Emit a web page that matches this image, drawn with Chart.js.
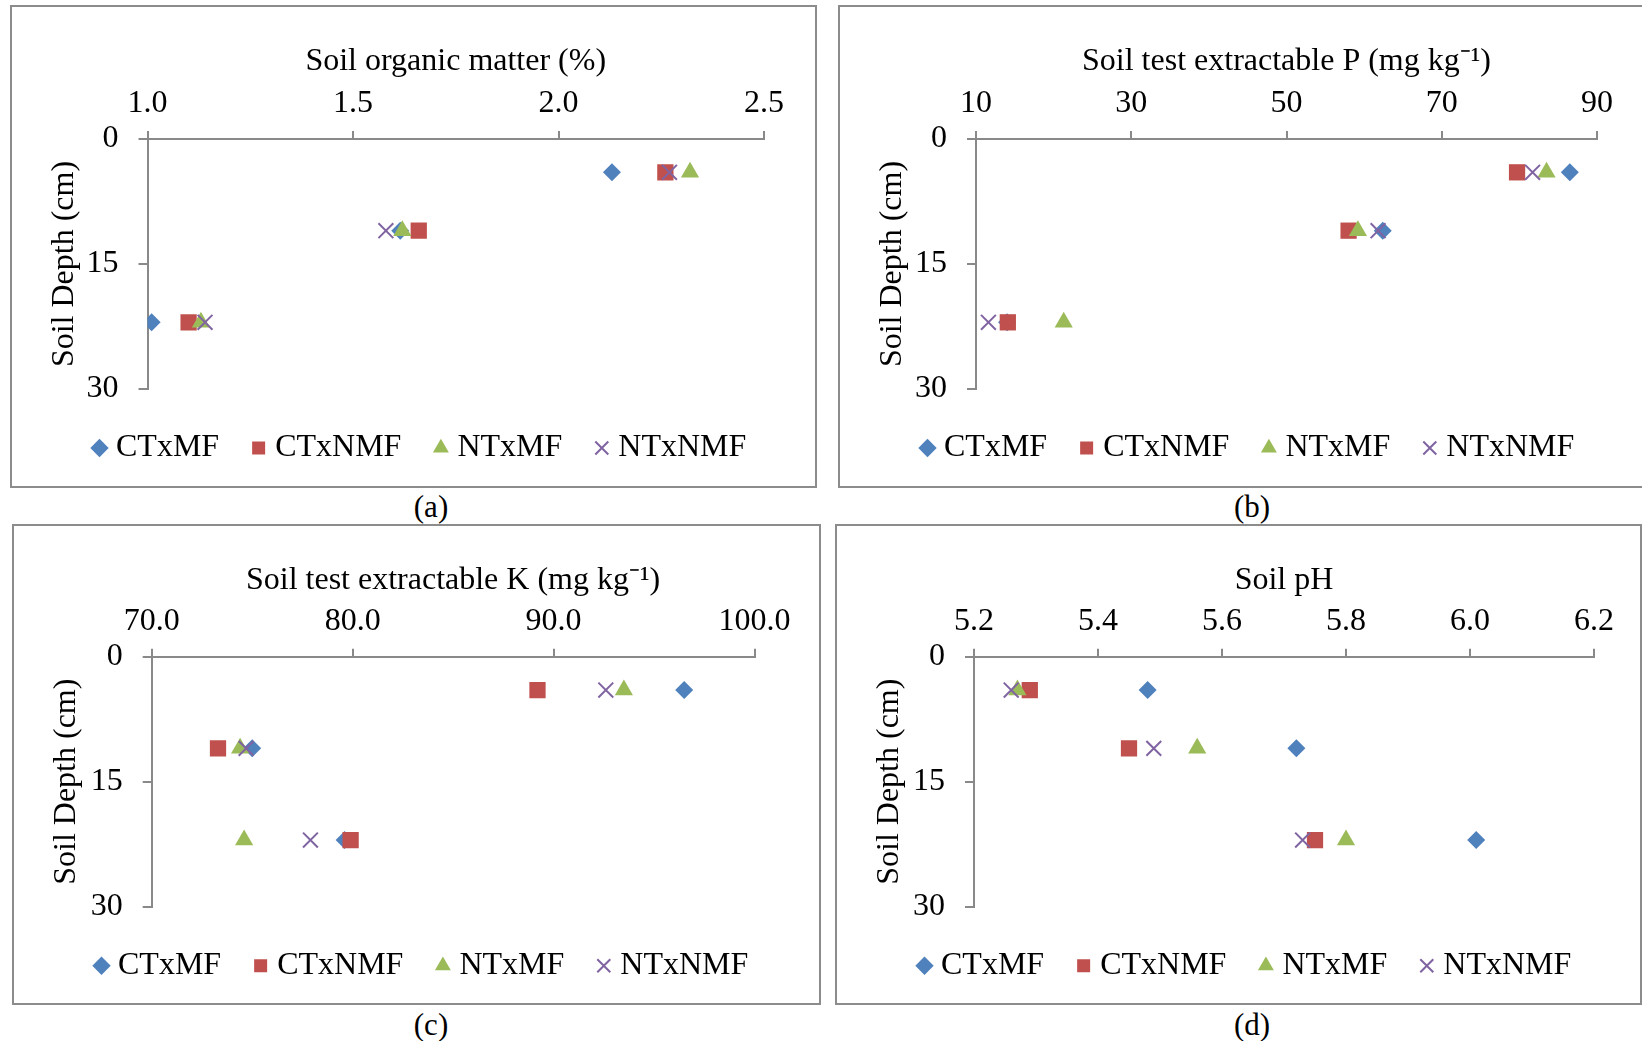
<!DOCTYPE html>
<html>
<head>
<meta charset="utf-8">
<script src="https://cdn.jsdelivr.net/npm/chart.js@4.4.0/dist/chart.umd.min.js"></script>
<style>
  body { margin: 0; width: 1642px; height: 1041px; overflow: hidden; position: relative; background: #fff;
         font-family: "Liberation Serif", "Times New Roman", serif; }
  .box { position: absolute; border: 2px solid #8c8c8c; box-sizing: border-box; }
  canvas { position: absolute; }
  .cap { position: absolute; font-size: 31px; color: #000; transform: translate(-50%, -50%); white-space: nowrap; }
</style>
</head>
<body>
<script>
const seriesNames = ['CTxMF', 'CTxNMF', 'NTxMF', 'NTxNMF'];
const depths = [4, 11, 22];

// (a) soil organic matter (%)
const omCTxMF = [2.13, 1.615, 1.01];
const omCTxNMF = [2.26, 1.66, 1.10];
const omNTxMF = [2.32, 1.62, 1.13];
const omNTxNMF = [2.27, 1.58, 1.14];
const omTicks = [1.0, 1.5, 2.0, 2.5];

// (b) soil test extractable P (mg kg-1)
const pCTxMF = [86.5, 62.4, 14.0];
const pCTxNMF = [79.7, 58.0, 14.1];
const pNTxMF = [83.5, 59.2, 21.3];
const pNTxNMF = [81.7, 61.8, 11.6];
const pTicks = [10, 30, 50, 70, 90];

// (c) soil test extractable K (mg kg-1)
const kCTxMF = [96.5, 75.0, 79.6];
const kCTxNMF = [89.2, 73.3, 79.9];
const kNTxMF = [93.5, 74.4, 74.6];
const kNTxNMF = [92.6, 74.7, 77.9];
const kTicks = [70.0, 80.0, 90.0, 100.0];

// (d) soil pH
const phCTxMF = [5.48, 5.72, 6.01];
const phCTxNMF = [5.29, 5.45, 5.75];
const phNTxMF = [5.27, 5.56, 5.80];
const phNTxNMF = [5.26, 5.49, 5.73];
const phTicks = [5.2, 5.4, 5.6, 5.8, 6.0, 6.2];

const depthTicks = [0, 15, 30];

const panels = [
  { caption: '(a)', title: 'Soil organic matter (%)', values: [omCTxMF, omCTxNMF, omNTxMF, omNTxNMF], ticks: omTicks, digits: 1,
    box: [10, 5, 807, 483], area: [137.5, 134, 754, 384], cap: [431, 507] },
  { caption: '(b)', title: 'Soil test extractable P (mg kg\u207B\u00B9)', values: [pCTxMF, pCTxNMF, pNTxMF, pNTxNMF], ticks: pTicks, digits: 0,
    box: [838, 5, 806, 483], area: [138, 134, 759, 384], cap: [1252, 507] },
  { caption: '(c)', title: 'Soil test extractable K (mg kg\u207B\u00B9)', values: [kCTxMF, kCTxNMF, kNTxMF, kNTxNMF], ticks: kTicks, digits: 1,
    box: [12, 524, 809, 481], area: [139.7, 132.7, 742.5, 382.7], cap: [431, 1025] },
  { caption: '(d)', title: 'Soil pH', values: [phCTxMF, phCTxNMF, phNTxMF, phNTxNMF], ticks: phTicks, digits: 1,
    box: [835, 524, 807, 481], area: [139, 132.7, 759, 382.7], cap: [1252, 1025] }
];

const fontFamily = '"Liberation Serif", "Times New Roman", serif';
const fontSize = 32;
const axisGray = '#898989';
const colors = ['#4F81BD', '#C0504D', '#9BBB59', '#8064A2'];
const markers = [
  { style: 'rectRot', radius: 9, border: 0 },
  { style: 'rect', radius: 11.5, border: 0 },
  { style: 'triangle', radius: 10.5, border: 0 },
  { style: 'crossRot', radius: 10.5, border: 2 }
];

Chart.defaults.font.family = fontFamily;
Chart.defaults.font.size = fontSize;
Chart.defaults.color = '#000';

// legend geometry: Chart.js centers the row of items (padding included)
const legendPad = 39;
const legendBox = 1;
const legendX = 89;
const legendDrop = 4;
const measure = document.createElement('canvas').getContext('2d');
measure.font = fontSize + 'px ' + fontFamily;
const legendLine = seriesNames.reduce((s, n) => s + legendBox + fontSize / 2 + measure.measureText(n).width + legendPad, 0);
const legendHeight = fontSize + legendPad + 10 + legendDrop;

panels.forEach((p) => {
  const [bx, by, bw, bh] = p.box;
  const [cl, ct, cr, cb] = p.area;

  const frame = document.createElement('div');
  frame.className = 'box';
  Object.assign(frame.style, { left: bx + 'px', top: by + 'px', width: bw + 'px', height: bh + 'px' });
  document.body.appendChild(frame);

  const canvas = document.createElement('canvas');
  canvas.width = bw;
  canvas.height = bh;
  Object.assign(canvas.style, { left: bx + 'px', top: by + 'px' });
  document.body.appendChild(canvas);

  const cap = document.createElement('div');
  cap.className = 'cap';
  cap.textContent = p.caption;
  Object.assign(cap.style, { left: p.cap[0] + 'px', top: p.cap[1] + 'px' });
  document.body.appendChild(cap);

  // legend spans padL..legendRight, wide enough to keep one row
  const padL = legendX - legendPad - 5;
  const legendRight = 2 * legendX - legendPad + legendLine - padL;
  const padT = 10;

  new Chart(canvas.getContext('2d'), {
    type: 'scatter',
    data: {
      datasets: seriesNames.map((name, i) => ({
        label: name,
        data: depths.map((d, j) => ({ x: p.values[i][j], y: d })),
        pointStyle: markers[i].style,
        pointRadius: markers[i].radius,
        pointHoverRadius: markers[i].radius,
        backgroundColor: colors[i],
        borderColor: colors[i],
        borderWidth: markers[i].border,
        order: seriesNames.length - i
      }))
    },
    options: {
      responsive: false,
      animation: false,
      devicePixelRatio: 1,
      layout: { padding: { left: padL, top: padT, right: bw - legendRight, bottom: bh - cb - legendHeight } },
      plugins: {
        tooltip: { enabled: false },
        legend: {
          position: 'bottom',
          // empty title only pushes the row down a little
          title: { display: true, text: ' ', font: { size: 1 }, padding: { top: legendDrop - 1.2, bottom: 0 } },
          labels: {
            usePointStyle: true,
            boxWidth: legendBox,
            boxHeight: 13,
            padding: legendPad,
            color: '#000',
            sort: (a, b) => a.datasetIndex - b.datasetIndex
          }
        }
      },
      scales: {
        x: {
          type: 'linear',
          position: 'top',
          min: p.ticks[0],
          max: p.ticks[p.ticks.length - 1],
          afterBuildTicks: (axis) => { axis.ticks = p.ticks.map((v) => ({ value: v })); },
          afterFit: (axis) => { axis.height = ct - padT; },
          ticks: { padding: 8, maxRotation: 0, autoSkip: false, color: '#000',
                   callback: (v) => Number(v).toFixed(p.digits) },
          grid: { drawOnChartArea: false, tickLength: 8, color: axisGray, lineWidth: 2 },
          border: { color: axisGray, width: 2 },
          title: { display: true, text: p.title, color: '#000', padding: { top: 57 - padT - fontSize * 0.6, bottom: 0 } }
        },
        y: {
          type: 'linear',
          reverse: true,
          min: depthTicks[0],
          max: depthTicks[depthTicks.length - 1],
          afterBuildTicks: (axis) => { axis.ticks = depthTicks.map((v) => ({ value: v })); },
          afterFit: (axis) => { axis.width = cl - padL; },
          ticks: { padding: 20, color: '#000' },
          grid: { drawOnChartArea: false, tickLength: 9, color: axisGray, lineWidth: 2 },
          border: { color: axisGray, width: 2 },
          title: { display: true, text: 'Soil Depth (cm)', color: '#000', padding: { top: 55 - padL - fontSize * 0.6, bottom: 0 } }
        },
        // empty right-hand box so the plot can end before the legend does
        spacer: {
          type: 'linear',
          position: 'right',
          afterFit: (axis) => { axis.width = legendRight - cr; },
          ticks: { display: false },
          grid: { display: false },
          border: { display: false }
        }
      }
    }
  });
});
</script>
</body>
</html>
